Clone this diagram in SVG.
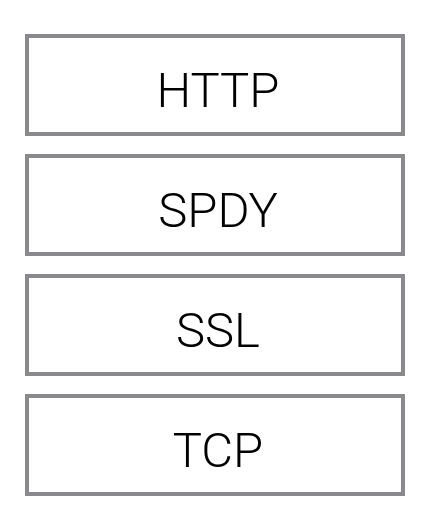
<svg xmlns="http://www.w3.org/2000/svg" width="430" height="522" viewBox="0 0 430 522">
<style>
.box{fill:#ffffff;stroke:#898a8d;stroke-width:4}
.lbl{font-family:"Roboto","Liberation Sans",sans-serif;font-weight:300;font-size:49px;fill:#000000;text-anchor:middle}
</style>
<rect width="430" height="522" fill="#ffffff"/>
<g id="connectors"></g>
<g id="http"><rect class="box" x="27" y="36" width="376" height="98"/><text class="lbl" x="218" y="107">HTTP</text></g>
<g id="spdy"><rect class="box" x="27" y="156" width="376" height="98"/><text class="lbl" x="218" y="227">SPDY</text></g>
<g id="ssl"><rect class="box" x="27" y="276" width="376" height="98"/><text class="lbl" x="218" y="347">SSL</text></g>
<g id="tcp"><rect class="box" x="27" y="396" width="376" height="98"/><text class="lbl" x="218" y="467">TCP</text></g>
</svg>
